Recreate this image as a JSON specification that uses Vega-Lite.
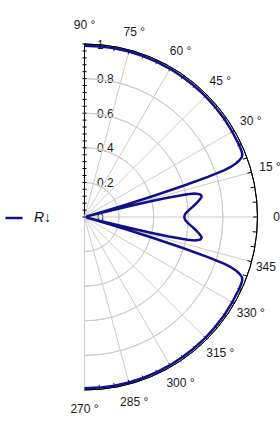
{
  "$schema": "https://vega.github.io/schema/vega-lite/v6.json",
  "width": 280,
  "height": 434,
  "autosize": {"type": "none"},
  "padding": 0,
  "background": "white",
  "config": {"view": {"stroke": null}, "font": "Liberation Sans"},
  "datasets": {
    "curve": [
      {"t": -90, "R": 0.99}, {"t": -85, "R": 0.99}, {"t": -80, "R": 0.99}, {"t": -75, "R": 0.99}, {"t": -70, "R": 0.99},
      {"t": -65, "R": 0.989}, {"t": -60, "R": 0.989}, {"t": -55, "R": 0.988}, {"t": -50, "R": 0.988}, {"t": -45, "R": 0.988},
      {"t": -40, "R": 0.987}, {"t": -35, "R": 0.987}, {"t": -30, "R": 0.986}, {"t": -25, "R": 0.986}, {"t": -23, "R": 0.985},
      {"t": -22, "R": 0.983}, {"t": -21.5, "R": 0.98}, {"t": -21, "R": 0.975}, {"t": -20.5, "R": 0.965}, {"t": -20, "R": 0.95},
      {"t": -19.5, "R": 0.93}, {"t": -19, "R": 0.9}, {"t": -18.5, "R": 0.85}, {"t": -18, "R": 0.75}, {"t": -17.5, "R": 0.6},
      {"t": -17, "R": 0.42}, {"t": -16.5, "R": 0.25}, {"t": -16, "R": 0.1}, {"t": -15.5, "R": 0.03}, {"t": -15, "R": 0.015},
      {"t": -14.5, "R": 0.04}, {"t": -14, "R": 0.12}, {"t": -13.6, "R": 0.27}, {"t": -13.3, "R": 0.4}, {"t": -13, "R": 0.5},
      {"t": -12.5, "R": 0.61}, {"t": -12, "R": 0.65}, {"t": -11.5, "R": 0.67}, {"t": -11, "R": 0.681}, {"t": -10.5, "R": 0.686},
      {"t": -10, "R": 0.687}, {"t": -9.5, "R": 0.684}, {"t": -9, "R": 0.678}, {"t": -8, "R": 0.666}, {"t": -7, "R": 0.652},
      {"t": -6, "R": 0.637}, {"t": -5, "R": 0.622}, {"t": -4, "R": 0.608}, {"t": -3, "R": 0.595}, {"t": -2, "R": 0.585},
      {"t": -1, "R": 0.579}, {"t": 0, "R": 0.577},
      {"t": 1, "R": 0.579}, {"t": 2, "R": 0.585}, {"t": 3, "R": 0.595}, {"t": 4, "R": 0.608}, {"t": 5, "R": 0.622},
      {"t": 6, "R": 0.637}, {"t": 7, "R": 0.652}, {"t": 8, "R": 0.666}, {"t": 9, "R": 0.678}, {"t": 9.5, "R": 0.684},
      {"t": 10, "R": 0.687}, {"t": 10.5, "R": 0.686}, {"t": 11, "R": 0.681}, {"t": 11.5, "R": 0.67}, {"t": 12, "R": 0.65},
      {"t": 12.5, "R": 0.61}, {"t": 13, "R": 0.5}, {"t": 13.3, "R": 0.4}, {"t": 13.6, "R": 0.27}, {"t": 14, "R": 0.12},
      {"t": 14.5, "R": 0.04}, {"t": 15, "R": 0.015}, {"t": 15.5, "R": 0.03}, {"t": 16, "R": 0.1}, {"t": 16.5, "R": 0.25},
      {"t": 17, "R": 0.42}, {"t": 17.5, "R": 0.6}, {"t": 18, "R": 0.75}, {"t": 18.5, "R": 0.85}, {"t": 19, "R": 0.9},
      {"t": 19.5, "R": 0.93}, {"t": 20, "R": 0.95}, {"t": 20.5, "R": 0.965}, {"t": 21, "R": 0.975}, {"t": 21.5, "R": 0.98},
      {"t": 22, "R": 0.983}, {"t": 23, "R": 0.985}, {"t": 25, "R": 0.986}, {"t": 30, "R": 0.986}, {"t": 35, "R": 0.987},
      {"t": 40, "R": 0.987}, {"t": 45, "R": 0.988}, {"t": 50, "R": 0.988}, {"t": 55, "R": 0.988}, {"t": 60, "R": 0.989},
      {"t": 65, "R": 0.989}, {"t": 70, "R": 0.99}, {"t": 75, "R": 0.99}, {"t": 80, "R": 0.99}, {"t": 85, "R": 0.99},
      {"t": 90, "R": 0.99}
    ],
    "circles": [{"r": 0.2}, {"r": 0.4}, {"r": 0.6}, {"r": 0.8}],
    "spokes": [
      {"a": -90}, {"a": -75}, {"a": -60}, {"a": -45}, {"a": -30}, {"a": -15}, {"a": 0},
      {"a": 15}, {"a": 30}, {"a": 45}, {"a": 60}, {"a": 75}
    ],
    "ticks": [
      {"a": -85}, {"a": -80}, {"a": -75}, {"a": -70}, {"a": -65}, {"a": -60}, {"a": -55}, {"a": -50}, {"a": -45},
      {"a": -40}, {"a": -35}, {"a": -30}, {"a": -25}, {"a": -20}, {"a": -15}, {"a": -10}, {"a": -5}, {"a": 0},
      {"a": 5}, {"a": 10}, {"a": 15}, {"a": 20}, {"a": 25}, {"a": 30}, {"a": 35}, {"a": 40}, {"a": 45},
      {"a": 50}, {"a": 55}, {"a": 60}, {"a": 65}, {"a": 70}, {"a": 75}, {"a": 80}, {"a": 85}
    ],
    "rticks": [
      {"v": 0}, {"v": 0.04}, {"v": 0.08}, {"v": 0.12}, {"v": 0.16}, {"v": 0.2}, {"v": 0.24}, {"v": 0.28}, {"v": 0.32},
      {"v": 0.36}, {"v": 0.4}, {"v": 0.44}, {"v": 0.48}, {"v": 0.52}, {"v": 0.56}, {"v": 0.6}, {"v": 0.64}, {"v": 0.68},
      {"v": 0.72}, {"v": 0.76}, {"v": 0.8}, {"v": 0.84}, {"v": 0.88}, {"v": 0.92}, {"v": 0.96}, {"v": 1}
    ],
    "alabels": [
      {"a": 90, "label": "90 °"}, {"a": 75, "label": "75 °"}, {"a": 60, "label": "60 °"},
      {"a": 45, "label": "45 °"}, {"a": 30, "label": "30 °"}, {"a": 15, "label": "15 °"},
      {"a": 0, "label": "0"}, {"a": -15, "label": "345 °"}, {"a": -30, "label": "330 °"},
      {"a": -45, "label": "315 °"}, {"a": -60, "label": "300 °"}, {"a": -75, "label": "285 °"},
      {"a": -90, "label": "270 °"}
    ]
  },
  "layer": [
    {
      "data": {"values": [{}]},
      "mark": {"type": "rule", "color": "#000000", "strokeWidth": 1},
      "encoding": {
        "x": {"datum": 0, "type": "quantitative", "scale": {"type": "linear", "domain": [-0.48844, 1.13006], "nice": false, "zero": false}, "axis": null},
        "y": {
          "datum": 0, "type": "quantitative", "title": null,
          "scale": {"type": "linear", "domain": [-1.25434, 1.25434], "nice": false, "zero": false},
          "axis": {
            "orient": "right", "offset": -195.5, "title": null, "domain": false, "grid": false,
            "values": [0, 0.2, 0.4, 0.6, 0.8, 1],
            "ticks": false, "tickSize": 0,
            "format": "~g",
            "labelPadding": 12, "labelFontSize": 12, "labelColor": "#1a1a1a", "labelFont": "Liberation Sans",
            "labelOverlap": false, "labelBound": false, "labelFlush": false, "labelBaseline": "middle", "labelAlign": "left"
          }
        },
        "y2": {"datum": 1}
      }
    },
    {
      "data": {"name": "circles"},
      "mark": {"type": "arc", "filled": false, "stroke": "#cccccc", "strokeWidth": 1, "theta": 0, "theta2": 3.14159265},
      "encoding": {
        "x": {"datum": 0, "type": "quantitative", "scale": {"type": "linear", "domain": [-0.48844, 1.13006], "nice": false, "zero": false}, "axis": null},
        "y": {"datum": 0, "type": "quantitative", "title": null, "scale": {"type": "linear", "domain": [-1.25434, 1.25434], "nice": false, "zero": false}},
        "radius": {"field": "r", "type": "quantitative", "scale": {"type": "linear", "domain": [0, 1], "range": [0, 173], "zero": true, "nice": false}},
        "radius2": {"field": "r"}
      }
    },
    {
      "data": {"name": "spokes"},
      "transform": [
        {"calculate": "0", "as": "x"},
        {"calculate": "0", "as": "y"},
        {"calculate": "cos(datum.a*PI/180)", "as": "x2"},
        {"calculate": "sin(datum.a*PI/180)", "as": "y2"}
      ],
      "mark": {"type": "rule", "color": "#cccccc", "strokeWidth": 1},
      "encoding": {
        "x": {"field": "x", "type": "quantitative", "scale": {"type": "linear", "domain": [-0.48844, 1.13006], "nice": false, "zero": false}, "axis": null},
        "y": {"field": "y", "type": "quantitative", "title": null, "scale": {"type": "linear", "domain": [-1.25434, 1.25434], "nice": false, "zero": false}},
        "x2": {"field": "x2"},
        "y2": {"field": "y2"}
      }
    },
    {
      "data": {"values": [{"r": 1}]},
      "mark": {"type": "arc", "filled": false, "stroke": "#000000", "strokeWidth": 1, "theta": 0, "theta2": 3.14159265},
      "encoding": {
        "x": {"datum": 0, "type": "quantitative", "scale": {"type": "linear", "domain": [-0.48844, 1.13006], "nice": false, "zero": false}, "axis": null},
        "y": {"datum": 0, "type": "quantitative", "title": null, "scale": {"type": "linear", "domain": [-1.25434, 1.25434], "nice": false, "zero": false}},
        "radius": {"field": "r", "type": "quantitative", "scale": {"type": "linear", "domain": [0, 1], "range": [0, 173], "zero": true, "nice": false}},
        "radius2": {"field": "r"}
      }
    },
    {
      "data": {"name": "ticks"},
      "transform": [
        {"calculate": "0.975*cos(datum.a*PI/180)", "as": "x"},
        {"calculate": "0.975*sin(datum.a*PI/180)", "as": "y"},
        {"calculate": "cos(datum.a*PI/180)", "as": "x2"},
        {"calculate": "sin(datum.a*PI/180)", "as": "y2"}
      ],
      "mark": {"type": "rule", "color": "#000000", "strokeWidth": 1},
      "encoding": {
        "x": {"field": "x", "type": "quantitative", "scale": {"type": "linear", "domain": [-0.48844, 1.13006], "nice": false, "zero": false}, "axis": null},
        "y": {"field": "y", "type": "quantitative", "title": null, "scale": {"type": "linear", "domain": [-1.25434, 1.25434], "nice": false, "zero": false}},
        "x2": {"field": "x2"},
        "y2": {"field": "y2"}
      }
    },
    {
      "data": {"name": "rticks"},
      "transform": [
        {"calculate": "-0.012", "as": "x"},
        {"calculate": "0.012", "as": "x2"}
      ],
      "mark": {"type": "rule", "color": "#000000", "strokeWidth": 1},
      "encoding": {
        "x": {"field": "x", "type": "quantitative", "scale": {"type": "linear", "domain": [-0.48844, 1.13006], "nice": false, "zero": false}, "axis": null},
        "y": {"field": "v", "type": "quantitative", "title": null, "scale": {"type": "linear", "domain": [-1.25434, 1.25434], "nice": false, "zero": false}},
        "x2": {"field": "x2"}
      }
    },
    {
      "data": {"name": "curve"},
      "transform": [
        {"calculate": "datum.R*cos(datum.t*PI/180)", "as": "x"},
        {"calculate": "datum.R*sin(datum.t*PI/180)", "as": "y"}
      ],
      "mark": {"type": "line", "strokeWidth": 2.5, "strokeJoin": "round"},
      "encoding": {
        "x": {"field": "x", "type": "quantitative", "scale": {"type": "linear", "domain": [-0.48844, 1.13006], "nice": false, "zero": false}, "axis": null},
        "y": {"field": "y", "type": "quantitative", "title": null, "scale": {"type": "linear", "domain": [-1.25434, 1.25434], "nice": false, "zero": false}},
        "order": {"field": "t", "type": "quantitative"},
        "color": {
          "datum": "R↓", "type": "nominal",
          "scale": {"range": ["#10108c"]},
          "legend": {
            "orient": "none", "legendX": 4, "legendY": 208, "title": null, "padding": 0,
            "symbolType": "stroke", "symbolStrokeWidth": 2.5, "symbolSize": 289,
            "labelFontSize": 14, "labelFontStyle": "italic", "labelFont": "Liberation Sans",
            "labelColor": "#111111", "labelOffset": 10
          }
        }
      }
    },
    {
      "data": {"name": "alabels"},
      "transform": [
        {"calculate": "1.11*cos(datum.a*PI/180)", "as": "x"},
        {"calculate": "1.11*sin(datum.a*PI/180)", "as": "y"}
      ],
      "mark": {"type": "text", "align": "center", "baseline": "middle", "fontSize": 12, "font": "Liberation Sans", "color": "#1a1a1a"},
      "encoding": {
        "x": {"field": "x", "type": "quantitative", "scale": {"type": "linear", "domain": [-0.48844, 1.13006], "nice": false, "zero": false}, "axis": null},
        "y": {"field": "y", "type": "quantitative", "title": null, "scale": {"type": "linear", "domain": [-1.25434, 1.25434], "nice": false, "zero": false}},
        "text": {"field": "label", "type": "nominal"}
      }
    }
  ]
}
